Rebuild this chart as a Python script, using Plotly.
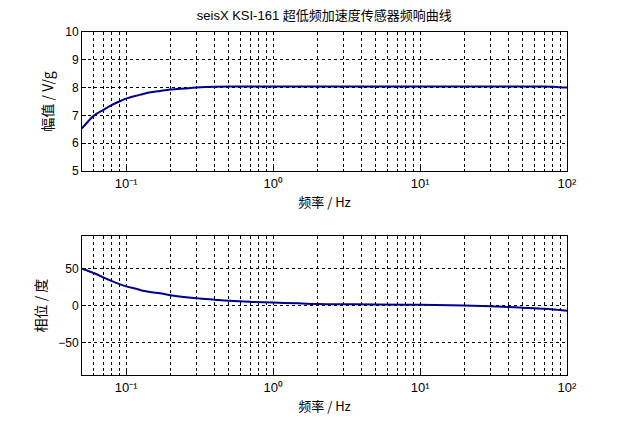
import plotly.graph_objects as go
import numpy as np

# Data
freq_mag = [0.05, 0.055, 0.06, 0.07, 0.08, 0.09, 0.1, 0.12, 0.13, 0.15, 0.17, 0.2, 0.25, 0.3, 0.4, 0.5, 0.7, 1, 2, 5, 10, 20, 50, 70, 80, 90, 100]
magnitude = [6.53, 6.78, 6.98, 7.2, 7.38, 7.5, 7.6, 7.72, 7.77, 7.84, 7.88, 7.93, 7.97, 8.0, 8.03, 8.04, 8.04, 8.04, 8.04, 8.04, 8.04, 8.04, 8.04, 8.04, 8.03, 8.01, 8.0]

freq_ph = [0.05, 0.06, 0.07, 0.08, 0.09, 0.1, 0.12, 0.13, 0.15, 0.17, 0.2, 0.3, 0.4, 0.5, 0.7, 1, 1.5, 2, 5, 10, 20, 30, 40, 50, 70, 100]
phase = [50, 44, 38, 33, 29, 26, 22, 20, 18, 16.5, 14, 10, 8, 6.5, 5, 4, 3, 2, 1.5, 1, 0, -1, -2, -3, -4.5, -7]

mag_range = [5, 10]
mag_ticks = [5, 6, 7, 8, 9, 10]
ph_range = [-94, 94]
ph_ticks = [-50, 0, 50]
decades = [0.1, 1, 10, 100]
decade_labels = ["10⁻¹", "10⁰", "10¹", "10²"]

title_text = "seisX KSI-161 超低频加速度传感器频响曲线"
xlabel = "频率 / Hz"
ylabel_mag = "幅值 / V/g"
ylabel_ph = "相位 / 度"

line_color = "#00008B"
font_family = "Liberation Sans, Arial, Noto Sans CJK SC"
grid_dash = "3px,3px"

fig = go.Figure()
fig.add_trace(go.Scatter(x=freq_mag, y=magnitude, mode="lines", line=dict(color=line_color, width=2, shape="spline"),
                         xaxis="x", yaxis="y", showlegend=False))
fig.add_trace(go.Scatter(x=freq_ph, y=phase, mode="lines", line=dict(color=line_color, width=2, shape="spline"),
                         xaxis="x2", yaxis="y2", showlegend=False))

xcommon = dict(type="log", range=[np.log10(0.05), 2], tickvals=decades, ticktext=decade_labels,
               showgrid=True, gridcolor="black", griddash=grid_dash, gridwidth=1,
               minor=dict(dtick="D1", showgrid=True, gridcolor="black", griddash=grid_dash, gridwidth=1,
                          ticks="inside", ticklen=2, tickcolor="black"),
               showline=True, linecolor="black", linewidth=1, mirror=True,
               ticks="inside", ticklen=4, tickcolor="black",
               tickfont=dict(size=13, color="black", family=font_family),
               title=dict(text=xlabel, font=dict(size=13, color="black", family="Noto Sans CJK SC"), standoff=8),
               zeroline=False)
ycommon = dict(showgrid=True, gridcolor="black", griddash=grid_dash, gridwidth=1,
               showline=True, linecolor="black", linewidth=1, mirror=True,
               ticks="inside", ticklen=4, tickcolor="black",
               tickfont=dict(size=12, color="black", family=font_family), zeroline=False)

fig.update_layout(
    width=626, height=429,
    margin=dict(l=82, r=59, t=32, b=54),
    paper_bgcolor="white", plot_bgcolor="white",
    title=dict(text=title_text, x=0.518, xanchor="center", y=0.965, yanchor="middle",
               font=dict(size=13, color="black", family="Liberation Sans, Noto Sans CJK SC")),
    xaxis=dict(**xcommon, anchor="y"),
    xaxis2=dict(**xcommon, anchor="y2"),
    yaxis=dict(**ycommon, domain=[0.595, 1], range=mag_range, tickvals=mag_ticks, anchor="x",
               title=dict(text=ylabel_mag, font=dict(size=14, color="black", family="Noto Sans CJK SC"), standoff=8)),
    yaxis2=dict(**ycommon, domain=[0, 0.405], range=ph_range, tickvals=ph_ticks, anchor="x2",
                title=dict(text=ylabel_ph, font=dict(size=14, color="black", family="Noto Sans CJK SC"), standoff=8)),
)

fig.write_html("out.html")
